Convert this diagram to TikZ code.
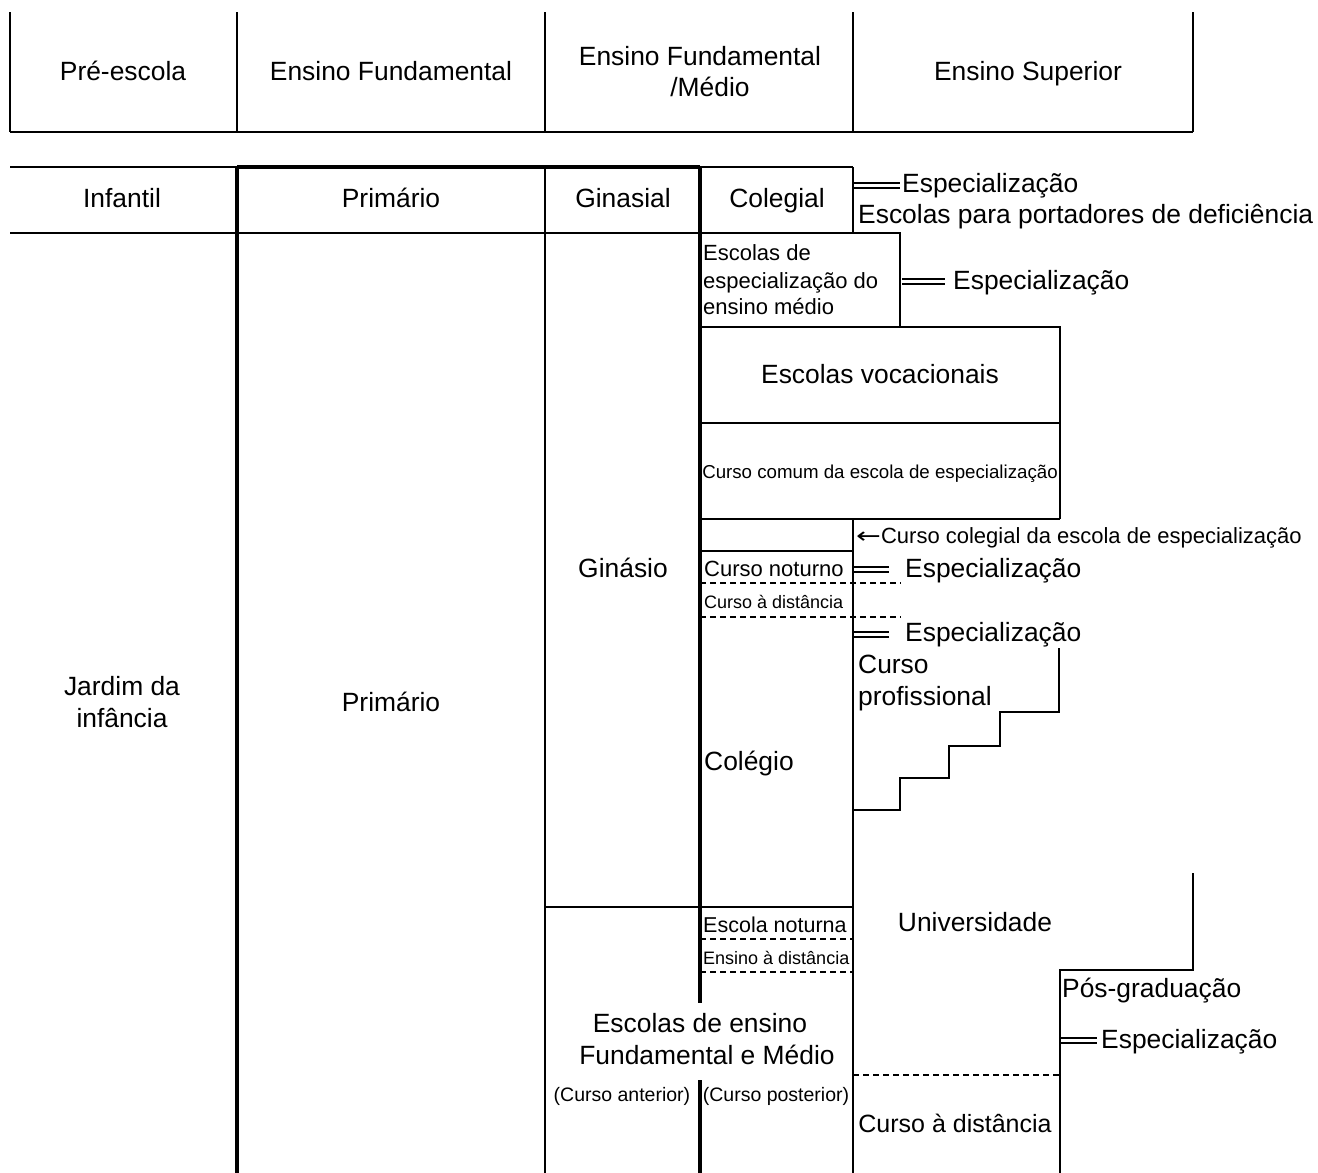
\documentclass[tikz,border=0pt]{standalone}
\usepackage{fontspec}
\setmainfont{Liberation Sans}
\newfontfamily\arrowfont{DejaVu Sans}
\begin{document}
\begin{tikzpicture}[x=1pt,y=-1pt,
  thinl/.style={line width=1.6pt},
  thickl/.style={line width=4pt},
  midl/.style={line width=2.4pt},
  dashl/.style={line width=1.5pt, dash pattern=on 6pt off 4pt},
  base/.style={inner sep=0pt, text height=0.72em, text depth=0pt, yshift=-4pt},
  lbl/.style={base, font=\fontsize{26.4}{29}\selectfont},
  smalllbl/.style={base, font=\fontsize{22}{25}\selectfont},
  tinylbl/.style={base, font=\fontsize{18}{21}\selectfont},
  parlbl/.style={base, font=\fontsize{19.5}{22}\selectfont}]
\useasboundingbox (0,0) rectangle (1318,1173);

% header
\foreach \x in {10,237,545,853,1193} \draw[thinl] (\x,12) -- (\x,132);
\draw[midl] (10,132) -- (1193,132);
\node[lbl] (pre) at (123,73) {Pré-escola};
\node[lbl] (ef) at (391,73) {Ensino Fundamental};
\node[lbl] (efm1) at (700,58) {Ensino Fundamental};
\node[lbl] (efm2) at (710,89) {/Médio};
\node[lbl] (es) at (1028,73) {Ensino Superior};

% second row
\draw[thinl] (10,167) -- (853,167);
\draw[thickl] (237,167) -- (700,167);
\draw[midl] (10,233) -- (853,233);
\draw[thinl] (853,167) -- (853,233);
\node[lbl] (inf) at (122,200) {Infantil};
\node[lbl] (pri) at (391,200) {Primário};
\node[lbl] (gin) at (623,200) {Ginasial};
\node[lbl] (col) at (777,200) {Colegial};

% main verticals
\draw[thickl] (237,167) -- (237,1173);
\draw[thinl] (545,167) -- (545,1173);
\draw[thickl] (700,167) -- (700,1003);
\draw[thickl] (700,1080) -- (700,1173);

% especializacao / deficiencia
\draw[thinl] (853,183) -- (900,183);
\draw[thinl] (853,188) -- (900,188);
\node[lbl, anchor=west] (esp1) at (902,185) {Especialização};
\node[lbl, anchor=west] (def) at (858,216) {Escolas para portadores de deficiência};

% escolas de especializacao box
\draw[thinl] (853,233) -- (900,233) -- (900,327);
\node[smalllbl, anchor=west] (eem1) at (703,253) {Escolas de};
\node[smalllbl, anchor=west] (eem2) at (703,281) {especialização do};
\node[smalllbl, anchor=west] (eem3) at (703,307) {ensino médio};
\draw[thinl] (902,279) -- (945,279);
\draw[thinl] (902,284) -- (945,284);
\node[lbl, anchor=west] (esp2) at (953,282) {Especialização};

% vocacionais
\draw[midl] (700,327) -- (1060,327) -- (1060,519);
\draw[thinl] (700,423) -- (1060,423);
\draw[midl] (700,519) -- (1060,519);
\node[lbl] (voc) at (880,376) {Escolas vocacionais};
\node[base, font=\fontsize{18.7}{21}\selectfont] (ccom) at (880,471) {Curso comum da escola de especialização};

% curso colegial
\draw[thinl] (853,519) -- (853,1173);
\draw[midl] (700,551) -- (853,551);
\node[smalllbl, anchor=west] (ccol) at (856,536) {{\arrowfont\scalebox{1.35}[1]{←}}Curso colegial da escola de especialização};

% curso noturno etc
\node[smalllbl, anchor=west] (cnot) at (704,569) {Curso noturno};
\draw[dashl] (700,583) -- (901,583);
\node[tinylbl, anchor=west] (cdist) at (704,601) {Curso à distância};
\draw[dashl] (700,617) -- (901,617);
\draw[thinl] (853,567) -- (889,567);
\draw[thinl] (853,572) -- (889,572);
\node[lbl, anchor=west] (esp3) at (905,570) {Especialização};
\draw[thinl] (853,632) -- (889,632);
\draw[thinl] (853,637) -- (889,637);
\node[lbl, anchor=west] (esp4) at (905,634) {Especialização};
\node[lbl, anchor=west] (cp1) at (858,666) {Curso};
\node[lbl, anchor=west] (cp2) at (858,698) {profissional};
\draw[thinl] (853,810) -- (900,810) -- (900,778) -- (949,778) -- (949,746) -- (1000,746) -- (1000,712) -- (1059,712) -- (1059,648);

\node[lbl] (gins) at (623,570) {Ginásio};
\node[lbl] (jd1) at (122,688) {Jardim da};
\node[lbl] (jd2) at (122,720) {infância};
\node[lbl] (prim) at (391,704) {Primário};
\node[lbl, anchor=west] (cole) at (704,763) {Colégio};

% lower part
\draw[thinl] (545,907) -- (853,907);
\node[smalllbl, anchor=west, font=\fontsize{21.5}{24}\selectfont] (enot) at (703,925) {Escola noturna};
\draw[dashl] (700,939) -- (853,939);
\node[tinylbl, anchor=west] (edist) at (703,957) {Ensino à distância};
\draw[dashl] (700,972) -- (853,972);
\node[lbl] (uni) at (975,924) {Universidade};
\node[lbl] (efm3) at (700,1025) {Escolas de ensino};
\node[lbl] (efm4) at (707,1057) {Fundamental e Médio};
\node[parlbl] (ca) at (622,1094) {(Curso anterior)};
\node[parlbl] (cpo) at (776,1094) {(Curso posterior)};

\draw[thinl] (1193,873) -- (1193,970) -- (1060,970) -- (1060,1173);
\node[lbl, anchor=west] (pos) at (1062,990) {Pós-graduação};
\draw[thinl] (1060,1038) -- (1097,1038);
\draw[thinl] (1060,1043) -- (1097,1043);
\node[lbl, anchor=west] (esp5) at (1101,1041) {Especialização};
\draw[dashl] (853,1075) -- (1060,1075);
\node[base, font=\fontsize{25}{28}\selectfont] (cdist2) at (955,1125) {Curso à distância};
\end{tikzpicture}
\end{document}
